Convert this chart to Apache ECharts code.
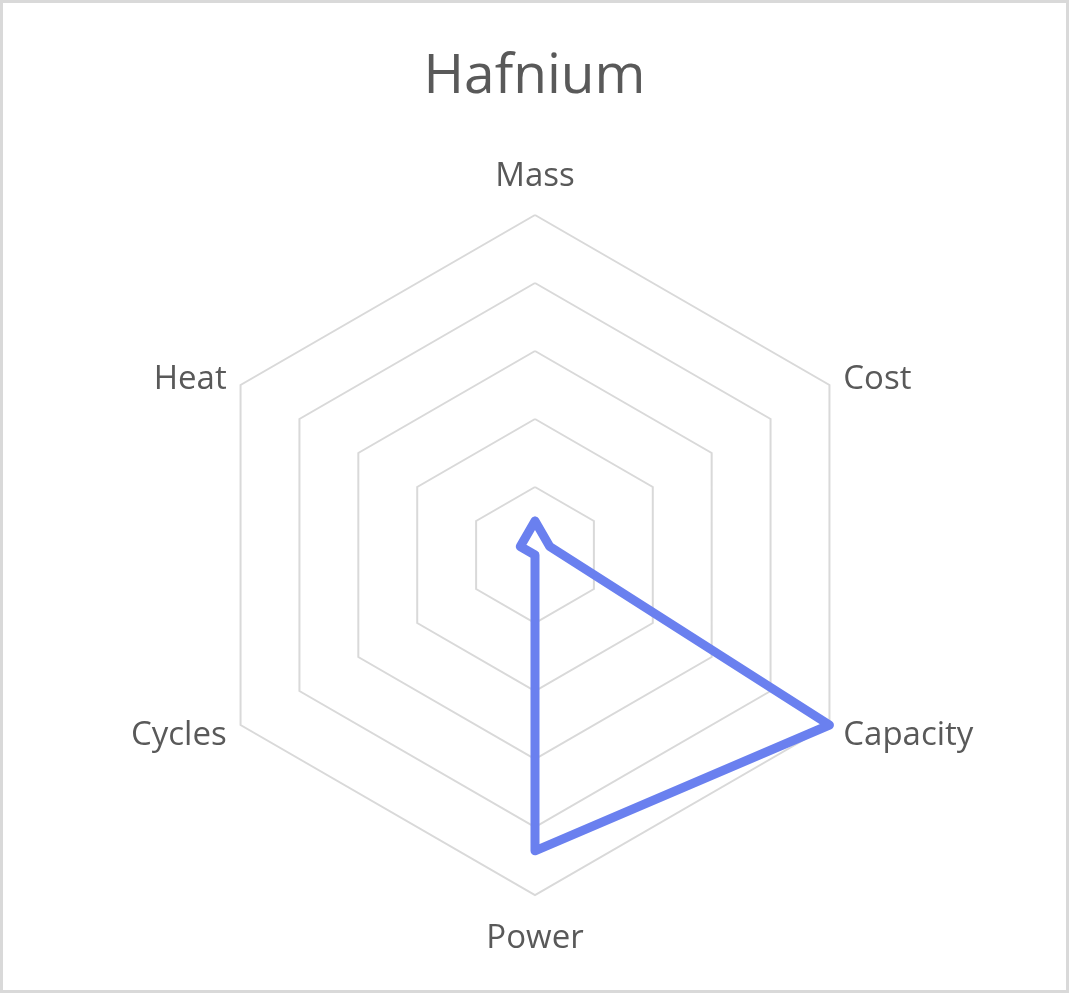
<!DOCTYPE html>
<html>
<head>
<meta charset="utf-8">
<script src="https://cdn.jsdelivr.net/npm/echarts@6/dist/echarts.min.js"></script>
<style>
html,body{margin:0;padding:0;background:#fff;}
#chart{position:absolute;left:0;top:0;width:1069px;height:993px;}
#frame{position:absolute;left:0;top:0;width:1069px;height:993px;box-sizing:border-box;border:3px solid #d9d9d9;pointer-events:none;}
</style>
</head>
<body>
<div id="chart"></div>
<div id="frame"></div>
<script>
const title = 'Hafnium';
const categories = ['Mass', 'Cost', 'Capacity', 'Power', 'Cycles', 'Heat'];
const values = [0.5, 0.25, 5, 4.35, 0, 0.25];
const axisMax = 5;

// ECharts places radar indicators counter-clockwise; the reference runs clockwise.
const order = [0].concat(categories.map((_, i) => i).slice(1).reverse());
const indicators = order.map(i => ({ name: categories[i], max: axisMax, min: 0 }));
const orderedValues = order.map(i => values[i]);

const labelFont = { fontFamily: 'Open Sans', fontSize: 33, color: '#595959' };
const topName = categories[0];
const bottomName = categories[3];

const chart = echarts.init(document.getElementById('chart'), null, { renderer: 'canvas' });
chart.setOption({
  backgroundColor: '#ffffff',
  animation: false,
  title: {
    text: title,
    left: 'center',
    top: 45,
    textStyle: { fontFamily: 'Open Sans', fontSize: 55, fontWeight: 'normal', color: '#595959' }
  },
  radar: {
    center: [535, 555],
    radius: 340,
    startAngle: 90,
    shape: 'polygon',
    splitNumber: 5,
    indicator: indicators,
    nameGap: 16,
    axisName: Object.assign({}, labelFont, {
      formatter: function (name) {
        if (name === topName) return '{t|' + name + '}';
        if (name === bottomName) return '{b|' + name + '}';
        return '{s|' + name + '}';
      },
      rich: {
        t: Object.assign({}, labelFont, { padding: [0, 0, 6, 0] }),
        b: Object.assign({}, labelFont, { padding: [11, 0, 0, 0] }),
        s: Object.assign({}, labelFont, { padding: [5, 0, 0, 0] })
      }
    }),
    axisLine: { show: false },
    axisTick: { show: false },
    axisLabel: { show: false },
    splitArea: { show: false },
    splitLine: { lineStyle: { color: '#d9d9d9', width: 2 } }
  },
  series: [{
    type: 'radar',
    symbol: 'none',
    lineStyle: { color: '#6a80ef', width: 9, join: 'round', cap: 'round' },
    data: [{ value: orderedValues, name: title }]
  }]
});
</script>
</body>
</html>
